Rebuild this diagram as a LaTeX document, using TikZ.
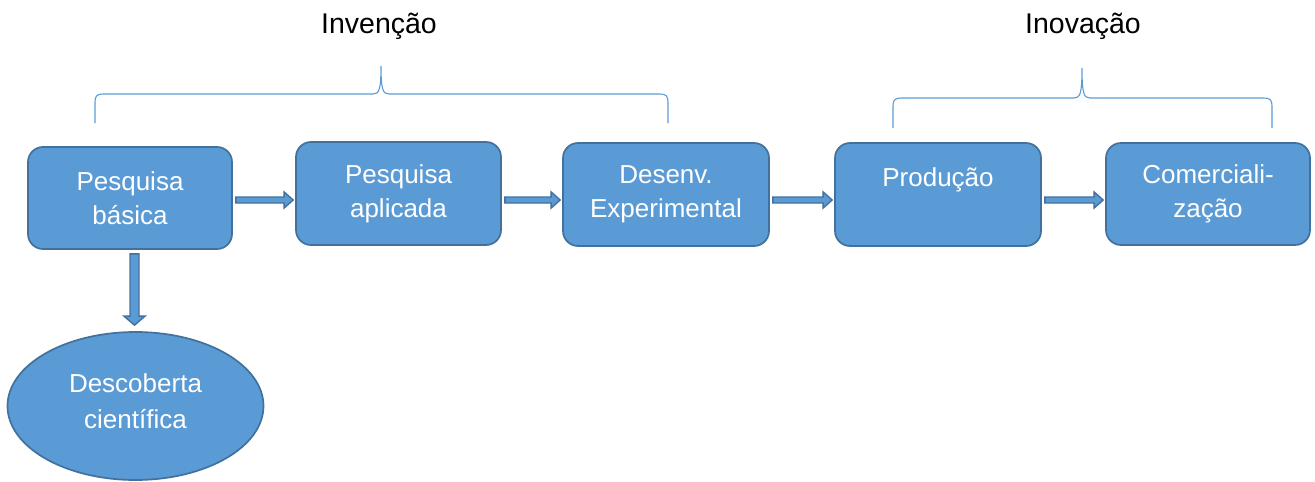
\documentclass[tikz,border=0pt]{standalone}
\usepackage{fontspec}
\setmainfont{Liberation Sans}
\usetikzlibrary{calc,shapes.geometric}
\definecolor{boxfill}{HTML}{5B9BD5}
\definecolor{boxline}{HTML}{41719C}
\definecolor{bracecol}{HTML}{5B9BD5}
\tikzset{
  stage/.style={draw=boxline, line width=1.7pt, fill=boxfill, rounded corners=15pt,
    inner sep=0pt, text=white, align=center, font=\fontsize{26}{34}\selectfont},
  stagetext/.style={text=white, inner sep=0pt, align=center, font=\fontsize{26}{36}\selectfont},
  blob/.style={ellipse, draw=boxline, line width=1.7pt, fill=boxfill, inner sep=0pt},
  flow/.style={draw=boxline, line width=1.4pt, fill=boxfill, line join=miter},
  bracket/.style={draw=bracecol, line width=1.1pt},
  phase/.style={inner sep=0pt, font=\fontsize{28.5}{34}\selectfont}
}
% horizontal block arrow between two stages, at height #3
\newcommand{\rightflow}[3]{%
  \path let \p1=($(#1.east |- 0,#3)+(3,0)$), \p2=($(#2.west |- 0,#3)+(-2,0)$) in
    [flow] (\x1,\y1+3pt) -- (\x2-9pt,\y1+3pt) -- (\x2-9pt,\y1+8pt) -- (\x2,\y1)
    -- (\x2-9pt,\y1-8pt) -- (\x2-9pt,\y1-3pt) -- (\x1,\y1-3pt) -- cycle;}
\begin{document}
\begin{tikzpicture}[x=1pt,y=-1pt]
\useasboundingbox (0,0) rectangle (1315,482);

% process stages
\node[stage, minimum width=204pt, minimum height=102pt] (basica) at (130,198) {Pesquisa\\básica};
\node[stage, minimum width=205pt, minimum height=103pt] (aplicada) at (398.5,193.5) {Pesquisa\\aplicada};
\node[stage, minimum width=206pt, minimum height=103pt] (desenv) at (666,194.5) {Desenv.\\Experimental};
\node[stage, minimum width=206pt, minimum height=103pt] (producao) at (938,194.5) {};
\node[stagetext] (producaotxt) at (938,180) {Produção};
\node[stage, minimum width=204pt, minimum height=102pt] (comerc) at (1208,194) {Comerciali-\\zação};

% outcome of basic research
\node[blob, minimum width=256pt, minimum height=148pt] (descoberta) at (135.5,406) {};
\node[stagetext] (descobertatxt) at (135.5,401) {Descoberta\\científica};

% block arrows along the chain
\rightflow{basica}{aplicada}{200}
\rightflow{aplicada}{desenv}{200}
\rightflow{desenv}{producao}{200}
\rightflow{producao}{comerc}{200}

% downward block arrow
\path let \p1=($(descoberta.north |- basica.south)+(-1,4)$), \p2=($(descoberta.north)+(-1,-6)$) in
  [flow] (\x1-4.5pt,\y1) -- (\x1+4.5pt,\y1) -- (\x1+4.5pt,\y2+9pt) -- (\x1+10.5pt,\y2+9pt)
  -- (\x1,\y2) -- (\x1-10.5pt,\y2+9pt) -- (\x1-4.5pt,\y2+9pt) -- cycle;

% phase braces
\draw[bracket] (95,123) -- (95,102) .. controls (95,96) and (97,94) .. (103,94)
  -- (373,94) .. controls (379,94) and (381,90) .. (381,66)
  .. controls (381,90) and (383,94) .. (389,94)
  -- (660,94) .. controls (666,94) and (668,96) .. (668,102) -- (668,123);
\draw[bracket] (893,128) -- (893,106) .. controls (893,100) and (895,98) .. (901,98)
  -- (1074,98) .. controls (1080,98) and (1082,94) .. (1082,68)
  .. controls (1082,94) and (1084,98) .. (1090,98)
  -- (1264,98) .. controls (1270,98) and (1272,100) .. (1272,106) -- (1272,128);

% phase labels
\node[phase] (invencao) at (379,26) {Invenção};
\node[phase] (inovacao) at (1083,26) {Inovação};
\end{tikzpicture}
\end{document}
